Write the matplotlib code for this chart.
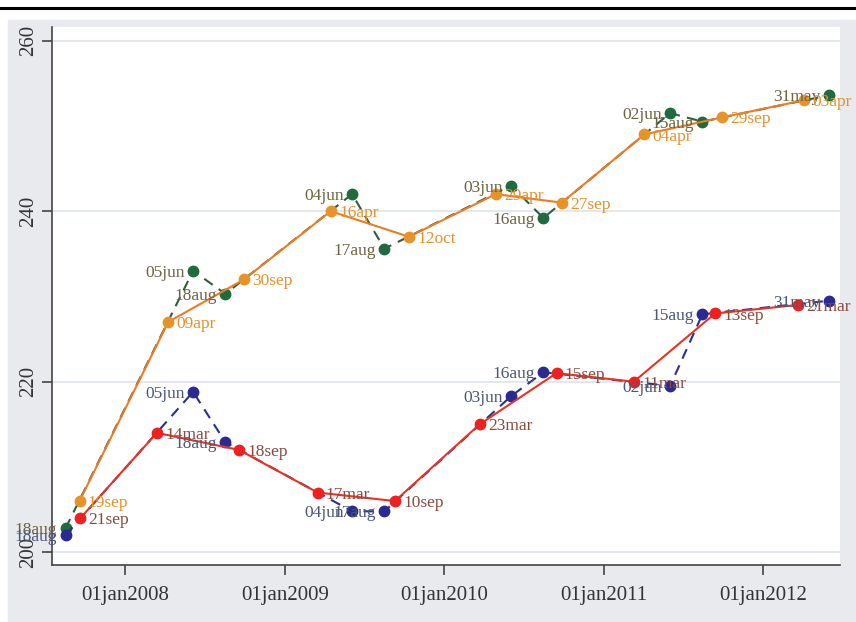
import matplotlib.pyplot as plt
from matplotlib.patches import Rectangle
from matplotlib.lines import Line2D
import pandas as pd

# orange series (solid), labels to the right
orange_dates = ['2007-09-19', '2008-04-09', '2008-09-30', '2009-04-16', '2009-10-12',
                '2010-04-29', '2010-09-27', '2011-04-04', '2011-09-29', '2012-04-03']
orange_vals = [206.0, 227.0, 232.0, 240.0, 237.0, 242.0, 241.0, 249.0, 251.0, 253.0]

# green series (dashed), labels to the left
green_dates = ['2007-08-18', '2008-06-05', '2008-08-18', '2009-06-04', '2009-08-17',
               '2010-06-03', '2010-08-16', '2011-06-02', '2011-08-15', '2012-05-31']
green_vals = [202.8, 233.0, 230.3, 242.0, 235.6, 243.0, 239.2, 251.5, 250.5, 253.6]

# red series (solid), labels to the right
red_dates = ['2007-09-21', '2008-03-14', '2008-09-18', '2009-03-17', '2009-09-10',
             '2010-03-23', '2010-09-15', '2011-03-11', '2011-09-13', '2012-03-21']
red_vals = [204.0, 214.0, 212.0, 207.0, 206.0, 215.0, 221.0, 220.0, 228.0, 229.0]

# blue series (dashed), labels to the left
blue_dates = ['2007-08-18', '2008-06-05', '2008-08-18', '2009-06-04', '2009-08-17',
              '2010-06-03', '2010-08-16', '2011-06-02', '2011-08-15', '2012-05-31']
blue_vals = [202.0, 218.8, 212.9, 204.8, 204.8, 218.3, 221.1, 219.5, 227.9, 229.5]

xticks = ['2008-01-01', '2009-01-01', '2010-01-01', '2011-01-01', '2012-01-01']
yticks = [200, 220, 240, 260]

plt.rcParams['font.family'] = ['Liberation Serif', 'DejaVu Serif']

fig = plt.figure(figsize=(8.56, 6.22), dpi=100)
W, H = 856, 622
fig.patches.append(Rectangle((8 / W, 0), 1 - 8 / W, (H - 20) / H,
                             transform=fig.transFigure, color='#e8eaee', zorder=-1))
fig.lines.append(Line2D([0, 1], [(H - 8) / H, (H - 8) / H], transform=fig.transFigure,
                        color='black', lw=2.2))

ax = fig.add_axes([52 / W, (H - 565) / H, (840 - 52) / W, (565 - 27) / H])
ax.set_zorder(2)
ax.set_facecolor('white')

# (dates, values, line colour, marker colour, label colour, style, label side, zorder)
series = [
    (green_dates, green_vals, '#2e5e3e', '#1f6b3f', '#6b6440', (0, (5, 3.5)), 'left', 3),
    (orange_dates, orange_vals, '#f07a22', '#e8922a', '#e8902a', '-', 'right', 4),
    (blue_dates, blue_vals, '#2a2f8f', '#2a2a90', '#4a5676', (0, (5, 3.5)), 'left', 5),
    (red_dates, red_vals, '#ec3024', '#ee2020', '#8b4a3c', '-', 'right', 6),
]
for dates, vals, lc, mc, tc, ls, side, z in series:
    d = pd.to_datetime(dates)
    ax.plot(d, vals, color=lc, ls=ls, lw=1.5, marker='o', ms=7.5,
            mfc=mc, mec=mc, zorder=z)
    for x, y, s in zip(d, vals, dates):
        lab = pd.Timestamp(s).strftime('%d%b').lower()
        if side == 'right':
            ax.annotate(lab, (x, y), xytext=(6, -1.5), textcoords='offset points',
                        ha='left', va='center', fontsize=12.5, color=tc, zorder=10)
        else:
            ax.annotate(lab, (x, y), xytext=(-6, -1.5), textcoords='offset points',
                        ha='right', va='center', fontsize=12.5, color=tc, zorder=10)

ax.set_xlim(pd.Timestamp('2007-07-18'), pd.Timestamp('2012-06-25'))
ax.set_ylim(198.5, 261.6)
xt = pd.to_datetime(xticks)
ax.set_xticks(xt)
ax.set_xticklabels([t.strftime('%d%b%Y').lower() for t in xt], fontsize=15)
ax.set_yticks(yticks)
ax.set_yticklabels([str(v) for v in yticks], fontsize=15, rotation=90, va='center')
ax.yaxis.grid(True, color='#dde4ea', lw=1.2)
ax.set_axisbelow(True)
for s in ['top', 'right']:
    ax.spines[s].set_visible(False)
for s in ['left', 'bottom']:
    ax.spines[s].set_color('#444444')
    ax.spines[s].set_linewidth(1.2)
ax.tick_params(axis='both', length=7, width=1.2, color='#444444', labelcolor='#333333')
ax.tick_params(axis='x', pad=8)
ax.tick_params(axis='y', pad=3)

fig.savefig('out.png', dpi=100)
